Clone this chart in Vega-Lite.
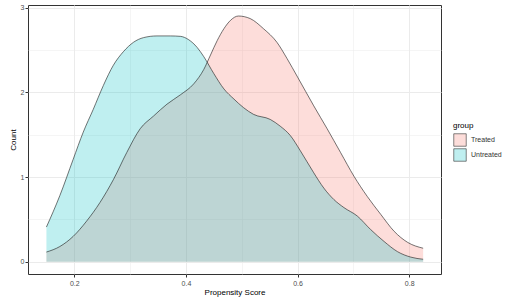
{
  "$schema": "https://vega.github.io/schema/vega-lite/v6.json",
  "width": 413,
  "height": 269,
  "autosize": {"type": "none"},
  "padding": {"left": 28, "top": 5, "right": 77, "bottom": 31},
  "background": "white",
  "config": {
    "view": {"stroke": "#333333", "strokeWidth": 1},
    "font": "Liberation Sans"
  },
  "data": {
    "values": [
      {"group": "Treated", "x": 0.150, "y": 0.115},
      {"group": "Treated", "x": 0.174, "y": 0.18},
      {"group": "Treated", "x": 0.198, "y": 0.30},
      {"group": "Treated", "x": 0.222, "y": 0.48},
      {"group": "Treated", "x": 0.246, "y": 0.70},
      {"group": "Treated", "x": 0.270, "y": 0.97},
      {"group": "Treated", "x": 0.294, "y": 1.29},
      {"group": "Treated", "x": 0.318, "y": 1.57},
      {"group": "Treated", "x": 0.342, "y": 1.72},
      {"group": "Treated", "x": 0.366, "y": 1.86},
      {"group": "Treated", "x": 0.390, "y": 1.97},
      {"group": "Treated", "x": 0.414, "y": 2.10},
      {"group": "Treated", "x": 0.432, "y": 2.27},
      {"group": "Treated", "x": 0.444, "y": 2.44},
      {"group": "Treated", "x": 0.456, "y": 2.61},
      {"group": "Treated", "x": 0.468, "y": 2.75},
      {"group": "Treated", "x": 0.480, "y": 2.85},
      {"group": "Treated", "x": 0.494, "y": 2.90},
      {"group": "Treated", "x": 0.515, "y": 2.87},
      {"group": "Treated", "x": 0.539, "y": 2.75},
      {"group": "Treated", "x": 0.563, "y": 2.59},
      {"group": "Treated", "x": 0.581, "y": 2.40},
      {"group": "Treated", "x": 0.600, "y": 2.18},
      {"group": "Treated", "x": 0.629, "y": 1.84},
      {"group": "Treated", "x": 0.653, "y": 1.57},
      {"group": "Treated", "x": 0.677, "y": 1.29},
      {"group": "Treated", "x": 0.701, "y": 1.01},
      {"group": "Treated", "x": 0.725, "y": 0.77},
      {"group": "Treated", "x": 0.749, "y": 0.56},
      {"group": "Treated", "x": 0.773, "y": 0.36},
      {"group": "Treated", "x": 0.797, "y": 0.23},
      {"group": "Treated", "x": 0.825, "y": 0.16},
      {"group": "Untreated", "x": 0.150, "y": 0.41},
      {"group": "Untreated", "x": 0.174, "y": 0.78},
      {"group": "Untreated", "x": 0.198, "y": 1.21},
      {"group": "Untreated", "x": 0.216, "y": 1.53},
      {"group": "Untreated", "x": 0.234, "y": 1.80},
      {"group": "Untreated", "x": 0.252, "y": 2.08},
      {"group": "Untreated", "x": 0.270, "y": 2.32},
      {"group": "Untreated", "x": 0.288, "y": 2.48},
      {"group": "Untreated", "x": 0.306, "y": 2.59},
      {"group": "Untreated", "x": 0.324, "y": 2.645},
      {"group": "Untreated", "x": 0.348, "y": 2.665},
      {"group": "Untreated", "x": 0.372, "y": 2.665},
      {"group": "Untreated", "x": 0.390, "y": 2.66},
      {"group": "Untreated", "x": 0.405, "y": 2.62},
      {"group": "Untreated", "x": 0.420, "y": 2.53},
      {"group": "Untreated", "x": 0.432, "y": 2.42},
      {"group": "Untreated", "x": 0.450, "y": 2.22},
      {"group": "Untreated", "x": 0.468, "y": 2.04},
      {"group": "Untreated", "x": 0.486, "y": 1.92},
      {"group": "Untreated", "x": 0.503, "y": 1.82},
      {"group": "Untreated", "x": 0.521, "y": 1.74},
      {"group": "Untreated", "x": 0.551, "y": 1.68},
      {"group": "Untreated", "x": 0.569, "y": 1.60},
      {"group": "Untreated", "x": 0.587, "y": 1.49},
      {"group": "Untreated", "x": 0.605, "y": 1.31},
      {"group": "Untreated", "x": 0.629, "y": 1.05},
      {"group": "Untreated", "x": 0.647, "y": 0.87},
      {"group": "Untreated", "x": 0.665, "y": 0.735},
      {"group": "Untreated", "x": 0.683, "y": 0.64},
      {"group": "Untreated", "x": 0.707, "y": 0.54},
      {"group": "Untreated", "x": 0.731, "y": 0.38},
      {"group": "Untreated", "x": 0.755, "y": 0.24},
      {"group": "Untreated", "x": 0.779, "y": 0.12},
      {"group": "Untreated", "x": 0.803, "y": 0.055},
      {"group": "Untreated", "x": 0.825, "y": 0.03}
    ]
  },
  "encoding": {
    "x": {
      "field": "x",
      "type": "quantitative",
      "scale": {"domain": [0.117, 0.857], "nice": false, "zero": false},
      "axis": {
        "title": "Propensity Score",
        "values": [0.2, 0.3, 0.4, 0.5, 0.6, 0.7, 0.8],
        "labelExpr": "round(datum.value*10)%2==0 ? format(datum.value,'.1f') : ''",
        "domain": false,
        "gridColor": "#EBEBEB",
        "gridWidth": {"condition": {"test": "round(datum.value*10)%2==1", "value": 0.5}, "value": 1},
        "tickColor": {"condition": {"test": "round(datum.value*10)%2==1", "value": "transparent"}, "value": "#333333"},
        "tickSize": 3,
        "labelFontSize": 7,
        "labelColor": "#4D4D4D",
        "labelPadding": 2,
        "titleFontSize": 8,
        "titleFontWeight": "normal",
        "titleColor": "black",
        "titlePadding": 2
      }
    },
    "y": {
      "field": "y",
      "type": "quantitative",
      "stack": null,
      "scale": {"domain": [-0.144, 3.03], "nice": false, "zero": false},
      "axis": {
        "title": "Count",
        "values": [0, 0.5, 1, 1.5, 2, 2.5, 3],
        "labelExpr": "datum.value%1==0 ? format(datum.value,'d') : ''",
        "domain": false,
        "gridColor": "#EBEBEB",
        "gridWidth": {"condition": {"test": "datum.value%1!=0", "value": 0.5}, "value": 1},
        "tickColor": {"condition": {"test": "datum.value%1!=0", "value": "transparent"}, "value": "#333333"},
        "tickSize": 3,
        "labelFontSize": 7,
        "labelColor": "#4D4D4D",
        "labelPadding": 1,
        "titleFontSize": 8,
        "titleFontWeight": "normal",
        "titleColor": "black",
        "titlePadding": 3
      }
    }
  },
  "layer": [
    {
      "mark": {"type": "area", "interpolate": "monotone", "fillOpacity": 0.25},
      "encoding": {
        "color": {
          "field": "group",
          "type": "nominal",
          "scale": {"domain": ["Treated", "Untreated"], "range": ["#F8766D", "#00BFC4"]},
          "legend": {
            "title": "group",
            "orient": "none",
            "legendX": 425,
            "legendY": 117,
            "titleFontSize": 8,
            "titleFontWeight": "normal",
            "titleColor": "black",
            "titlePadding": 3,
            "labelFontSize": 7,
            "labelColor": "#333333",
            "symbolType": "square",
            "symbolSize": 156,
            "symbolStrokeWidth": 0.6,
            "symbolStrokeColor": "#333333",
            "rowPadding": -7,
            "labelOffset": 4,
            "encode": {
              "symbols": {"update": {"fillOpacity": {"value": 0.25}, "stroke": {"value": "#333333"}, "strokeOpacity": {"value": 1}}}
            }
          }
        }
      }
    },
    {
      "mark": {"type": "line", "interpolate": "monotone", "color": "#1a1a1a", "strokeWidth": 0.6},
      "encoding": {"detail": {"field": "group"}}
    }
  ]
}
